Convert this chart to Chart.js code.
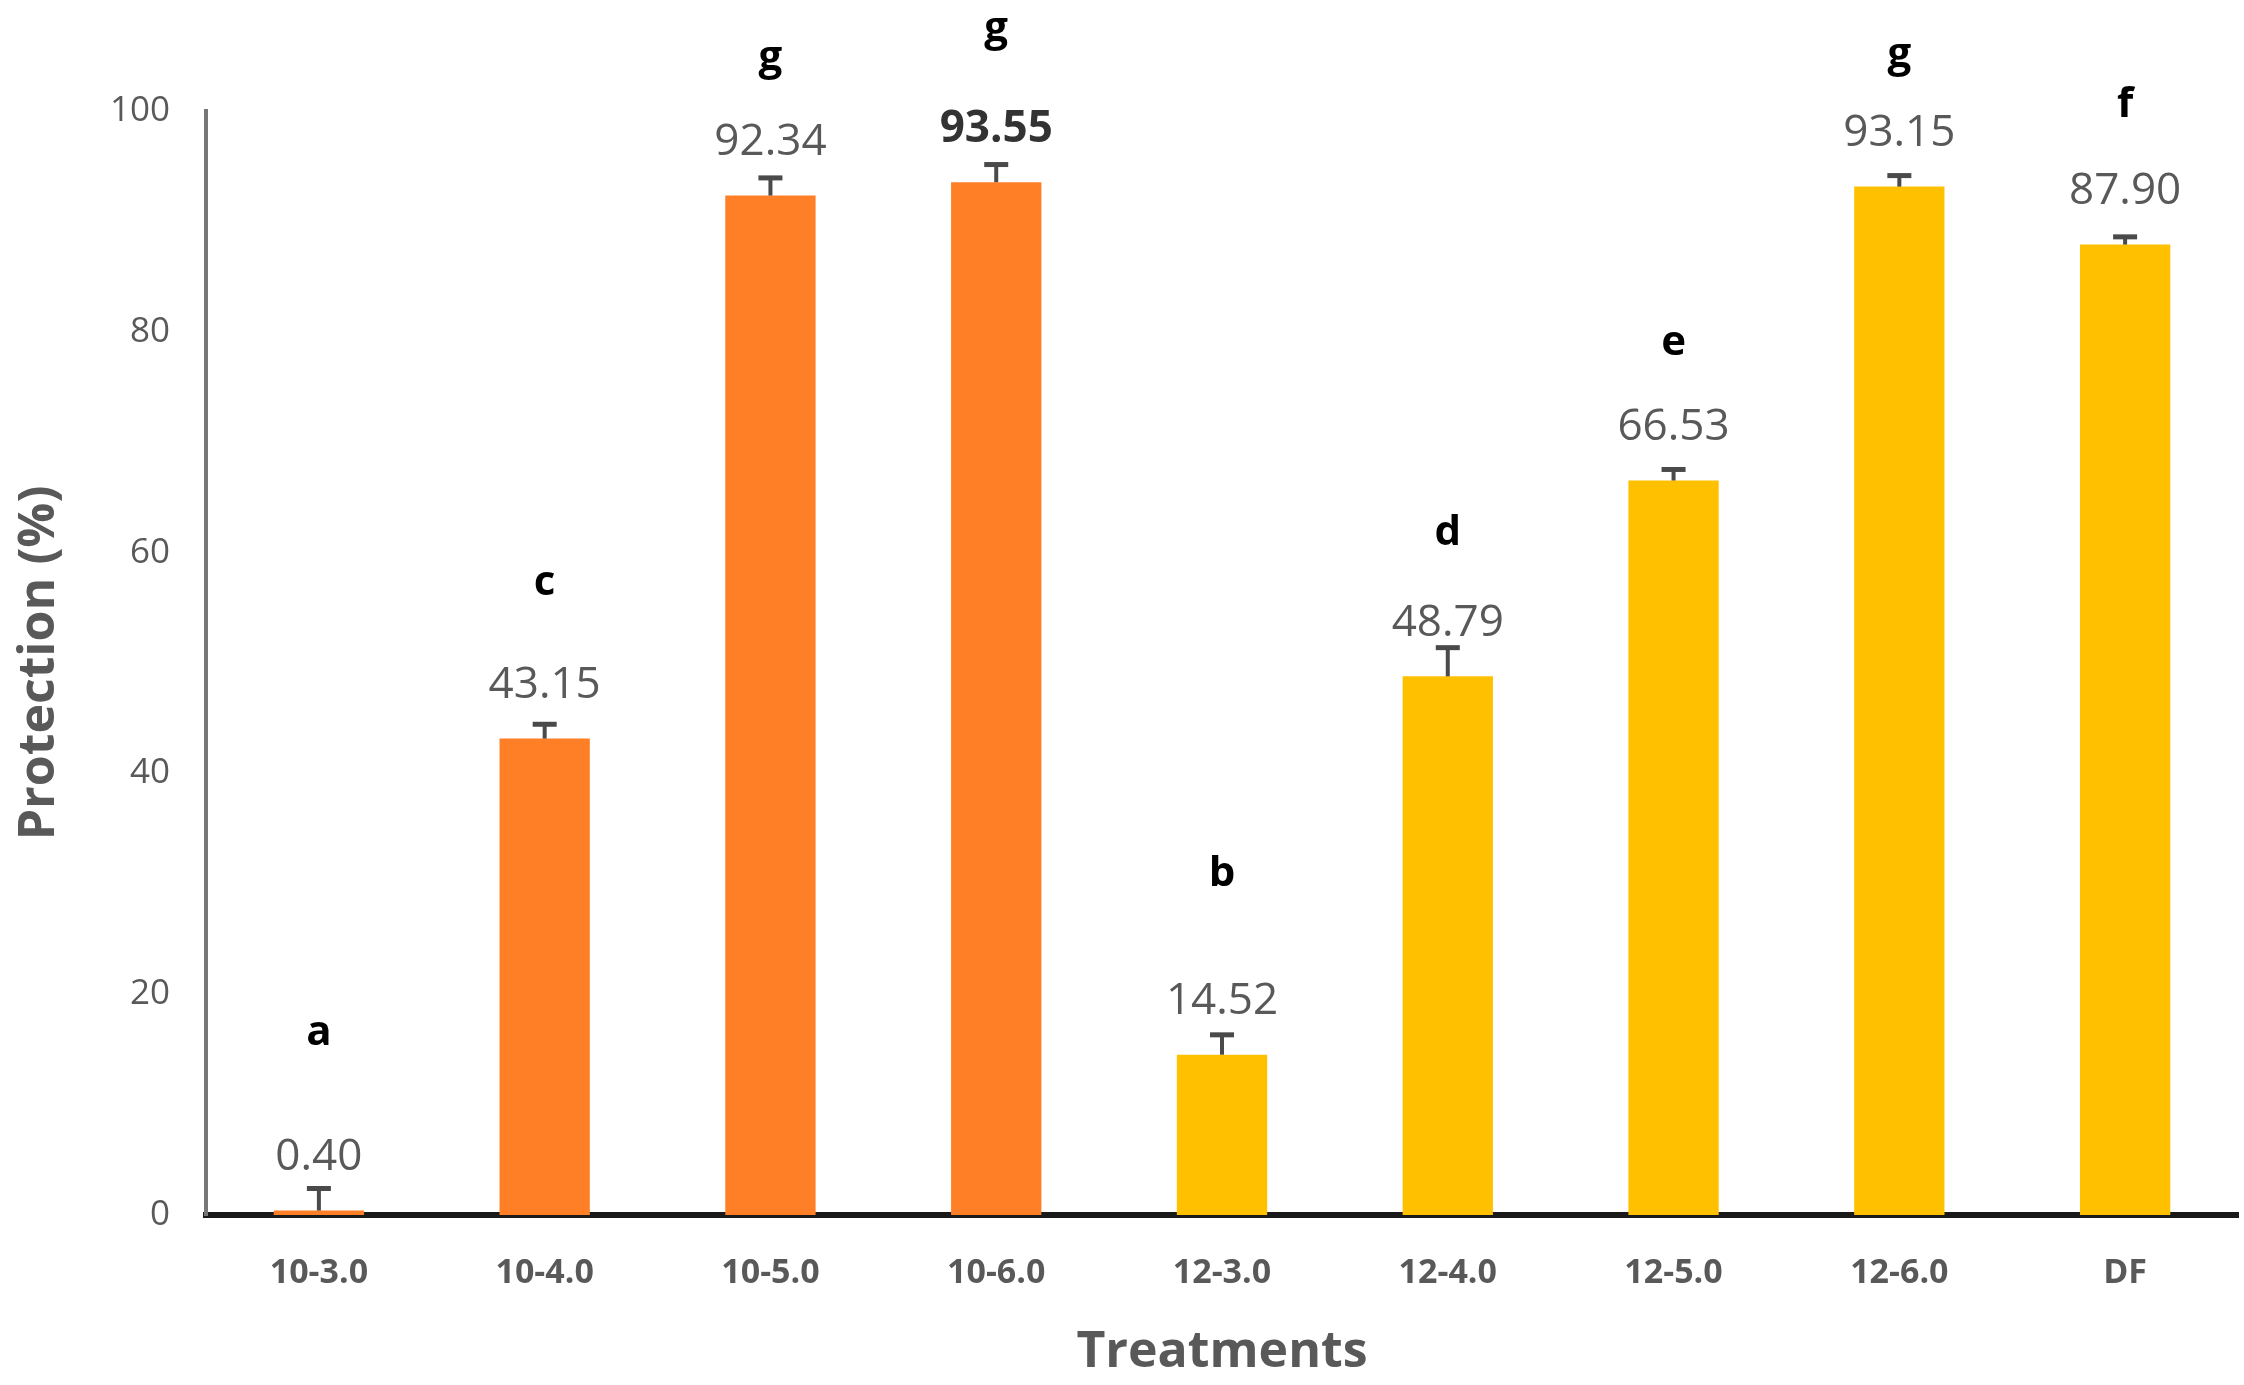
<!DOCTYPE html>
<html>
<head>
<meta charset="utf-8">
<script src="https://cdn.jsdelivr.net/npm/chart.js@4.4.1/dist/chart.umd.min.js"></script>
<style>
  html, body { margin: 0; padding: 0; background: #ffffff; }
  #wrap { width: 2244px; height: 1385px; position: relative; }
</style>
</head>
<body>
<div id="wrap"><canvas id="protectionChart"></canvas></div>
<script>

// data
var treatments = ['10-3.0', '10-4.0', '10-5.0', '10-6.0', '12-3.0', '12-4.0', '12-5.0', '12-6.0', 'DF'];
var protection = [0.40, 43.15, 92.34, 93.55, 14.52, 48.79, 66.53, 93.15, 87.90];
var errors = [2.0, 1.3, 1.6, 1.6, 1.8, 2.6, 1.0, 1.0, 0.7];
var letters = ['a', 'c', 'g', 'g', 'b', 'd', 'e', 'g', 'f'];
// height (in % units) where each significance letter sits
var letterLevels = [16.5, 57.2, 104.8, 107.4, 30.9, 61.8, 79.0, 105.1, 100.5];
var yTicks = [0, 20, 40, 60, 80, 100];

var orange = '#FF7F27';
var gold = '#FFC000';
var grey = '#595959';

var barColors = [];
for (var i = 0; i < treatments.length; i++) {
  barColors.push(treatments[i].indexOf('10-') === 0 ? orange : gold);
}

// error bars, value labels and letters
var annotatePlugin = {
  id: 'annotate',
  afterDatasetsDraw: function(chart) {
    var c = chart.ctx;
    var meta = chart.getDatasetMeta(0);
    var yScale = chart.scales.y;
    c.save();
    for (var i = 0; i < meta.data.length; i++) {
      var bar = meta.data[i];
      var x = bar.x;
      var top = yScale.getPixelForValue(protection[i]);
      var errTop = yScale.getPixelForValue(protection[i] + errors[i]);

      c.strokeStyle = '#4a4a4a';
      c.lineWidth = 4;
      c.beginPath();
      c.moveTo(x, top);
      c.lineTo(x, errTop);
      c.stroke();
      c.lineWidth = 5;
      c.beginPath();
      c.moveTo(x - 12, errTop);
      c.lineTo(x + 12, errTop);
      c.stroke();

      c.textAlign = 'center';
      c.textBaseline = 'middle';
      if (i === 3) {
        c.font = 'bold 44px "Open Sans"';
        c.fillStyle = '#333333';
      } else {
        c.font = '44px "Open Sans"';
        c.fillStyle = grey;
      }
      c.fillText(protection[i].toFixed(2), x, top - 53);

      c.font = 'bold 42px "Open Sans"';
      c.fillStyle = '#000000';
      c.fillText(letters[i], x, yScale.getPixelForValue(letterLevels[i]));
    }
    c.restore();
  }
};

var ctx = document.getElementById('protectionChart').getContext('2d');

var chart = new Chart(ctx, {
  type: 'bar',
  data: {
    labels: treatments,
    datasets: [{
      label: 'Protection (%)',
      data: protection,
      backgroundColor: barColors,
      borderWidth: 0,
      barPercentage: 0.4,
      categoryPercentage: 1
    }]
  },
  options: {
    responsive: true,
    maintainAspectRatio: false,
    animation: false,
    layout: { padding: { top: 111, right: 6, bottom: 0, left: 0 } },
    plugins: {
      legend: { display: false },
      tooltip: { enabled: false }
    },
    scales: {
      x: {
        z: 1,
        grid: { display: false, drawTicks: false },
        border: { display: true, color: '#1a1a1a', width: 6 },
        ticks: {
          color: grey,
          padding: 38,
          font: { family: 'Open Sans', size: 34, weight: 'bold' }
        },
        title: {
          display: true,
          text: 'Treatments',
          color: grey,
          padding: { top: 0, bottom: 2 },
          font: { family: 'Open Sans', size: 50, weight: 'bold' }
        },
        afterFit: function(scale) { scale.height = 170; }
      },
      y: {
        z: 1,
        min: 0,
        max: 100,
        grid: { display: false, drawTicks: false },
        border: { display: true, color: '#767676', width: 4 },
        afterBuildTicks: function(scale) {
          scale.ticks = yTicks.map(function(v) { return { value: v }; });
        },
        ticks: {
          color: grey,
          padding: 36,
          font: { family: 'Open Sans', size: 35 }
        },
        title: {
          display: true,
          text: 'Protection (%)',
          color: grey,
          padding: { top: 10, bottom: 0 },
          font: { family: 'Open Sans', size: 50, weight: 'bold' }
        },
        afterFit: function(scale) { scale.width = 206; }
      }
    }
  },
  plugins: [annotatePlugin]
});

</script>
</body>
</html>
